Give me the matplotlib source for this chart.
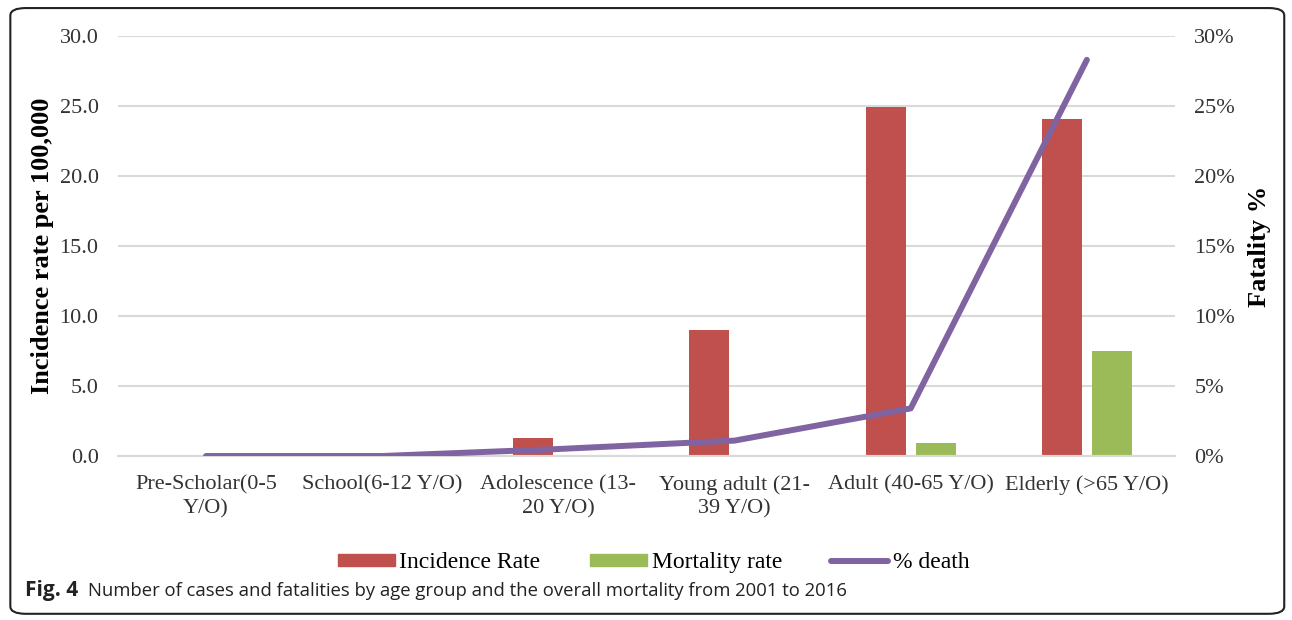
import matplotlib.pyplot as plt
from matplotlib.patches import FancyBboxPatch
from matplotlib.lines import Line2D
from matplotlib.patches import Patch
import numpy as np

categories = ["Pre-Scholar(0-5\nY/O)", "School(6-12 Y/O)", "Adolescence (13-\n20 Y/O)",
              "Young adult (21-\n39 Y/O)", "Adult (40-65 Y/O)", "Elderly (>65 Y/O)"]
incidence = [0.0, 0.0, 1.3, 9.0, 24.9, 24.1]
mortality = [0.0, 0.0, 0.0, 0.0, 0.9, 7.5]
pct_death = [0.0, 0.0, 0.5, 1.1, 3.4, 28.3]

red = "#C0504D"
green = "#9BBB59"
purple = "#8064A2"
serif = "Liberation Serif"

fig = plt.figure(figsize=(12.92, 6.2), dpi=100)
ax = fig.add_axes([0.0913, 0.2645, 0.8181, 0.6774])
ax2 = ax.twinx()

x = np.arange(len(categories))
w = 0.227
ax.bar(x - 0.143, incidence, w, color=red, zorder=2)
ax.bar(x + 0.143, mortality, w, color=green, zorder=2)
ax2.plot(x, pct_death, color=purple, lw=4.3, solid_capstyle="round", zorder=3)

ax.set_xlim(-0.5, 5.5)
ax.set_ylim(0, 30)
ax2.set_ylim(0, 30)
ax.set_yticks(np.arange(0, 31, 5))
ax.set_yticklabels([f"{v:.1f}" for v in np.arange(0, 31, 5)], fontfamily=serif, fontsize=16, color="#333333")
ax2.set_yticks(np.arange(0, 31, 5))
ax2.set_yticklabels([f"{v}%" for v in range(0, 31, 5)], fontfamily=serif, fontsize=16, color="#333333")
ax.set_xticks(x)
ax.set_xticklabels(categories, fontfamily=serif, fontsize=16, color="#333333", linespacing=1.3)
ax.grid(axis="y", color="#d9d9d9", lw=1.5, zorder=0)
ax.set_axisbelow(True)
for a in (ax, ax2):
    for s in ("top", "left", "right"):
        a.spines[s].set_visible(False)
    a.spines["bottom"].set_color("#d9d9d9")
    a.spines["bottom"].set_linewidth(1.5)
    a.tick_params(length=0, pad=14)
ax.tick_params(axis="x", pad=14)

ax.set_ylabel("Incidence rate per 100,000", fontfamily=serif, fontsize=19, fontweight="bold", labelpad=4)
ax2.set_ylabel("Fatality %", fontfamily=serif, fontsize=19, fontweight="bold", labelpad=9)

handles = [Patch(color=red), Patch(color=green), Line2D([0], [0], color=purple, lw=4.3, solid_capstyle="round")]
fig.legend(handles, ["Incidence Rate", "Mortality rate", "% death"], loc="center",
           bbox_to_anchor=(0.506, 0.092), ncol=3, frameon=False, handlelength=2.4, handleheight=0.45,
           handletextpad=0.2, columnspacing=2.1, prop={"family": serif, "size": 17})

border = FancyBboxPatch((0.008, 0.01), 0.986, 0.977, boxstyle="round,pad=0,rounding_size=0.012",
                        transform=fig.transFigure, fill=False, ec="#222222", lw=1.5)
fig.patches.append(border)

fig.text(0.019, 0.047, "Fig. 4", fontsize=15, va="center", fontfamily="Open Sans", fontweight="bold",
         color="#222222")
fig.text(0.068, 0.047, "Number of cases and fatalities by age group and the overall mortality from 2001 to 2016",
         fontsize=13.3, va="center", fontfamily="Open Sans", color="#222222")

fig.savefig("out.png", dpi=100)
